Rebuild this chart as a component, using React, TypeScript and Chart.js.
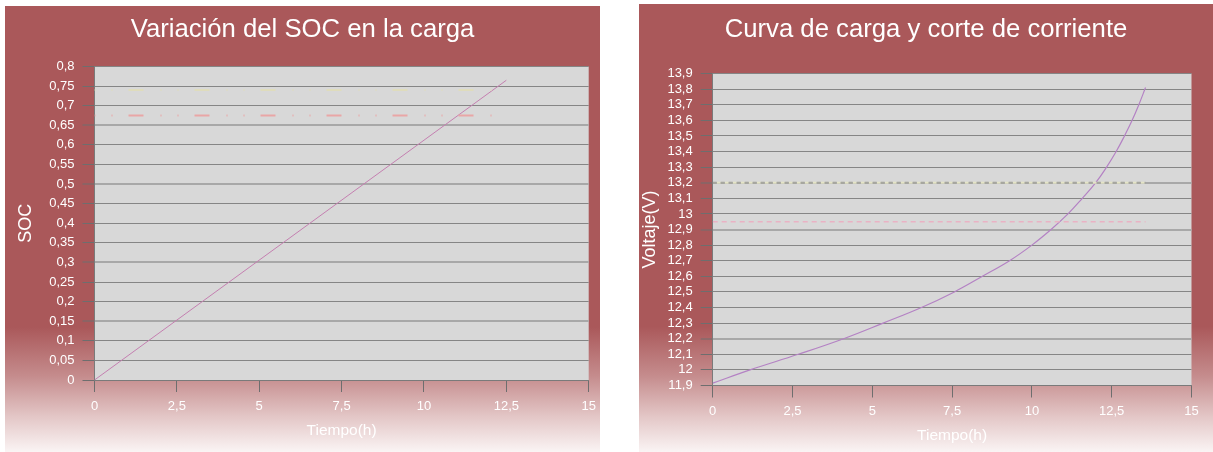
import React, { useEffect, useRef } from "react";
import { Chart, registerables } from "chart.js";

Chart.register(...registerables);

// ---- State of charge while charging ----
const socTime = [0, 12.5];
const socValues = [0, 0.765];
const socLimitUpper = 0.74;
const socLimitLower = 0.675;
const socLimitSpan = [0, 12.5];
const socLightGrid = [0.65, 0.5, 0.3, 0.15];

// ---- Charging voltage curve and current cut-off ----
const voltTime = [
  0, 1.17, 2.68, 4.1, 5.34, 6.54, 7.57, 8.45, 9.3, 10.0, 10.6, 11.13,
  11.58, 12.0, 12.34, 12.64, 12.9, 13.14, 13.35, 13.56,
];
const voltValues = [
  11.915, 12.0, 12.1, 12.2, 12.3, 12.4, 12.5, 12.6, 12.7, 12.8, 12.9, 13.0,
  13.1, 13.2, 13.3, 13.4, 13.5, 13.6, 13.7, 13.81,
];
const cutoffHigh = 13.2;
const cutoffLow = 12.95;
const cutoffSpan = [0, 13.56];
const voltLightGrid = [13.2, 12.9, 12.2];

const timeMin = 0;
const timeMax = 15;
const timeStep = 2.5;

const FONT = "'Liberation Sans', Arial, Helvetica, sans-serif";
Chart.defaults.font.family = FONT;

const fmt = (v: number | string) =>
  String(+Number(v).toFixed(2)).replace(".", ",");

const pts = (xs: number[], ys: number[]) => xs.map((x, i) => ({ x, y: ys[i] }));
const flat = (span: number[], y: number) => span.map((x) => ({ x, y }));

const plotFill = {
  id: "plotFill",
  beforeDraw(chart: any) {
    const { ctx, chartArea: a } = chart;
    ctx.save();
    ctx.fillStyle = "#D8D8D8";
    ctx.fillRect(a.left, a.top, a.right - a.left, a.bottom - a.top);
    ctx.restore();
  },
};

type Geo = {
  yWidth: number;
  xHeight: number;
  padRight: number;
  titleTop: number;
  titleBottom: number;
  yTitlePad: number;
  xTitlePad: number;
  xTickPad: number;
};

function buildConfig(opts: {
  title: string;
  yTitle: string;
  yMin: number;
  yMax: number;
  yStep: number;
  light: number[];
  datasets: any[];
  geo: Geo;
}) {
  const { geo } = opts;
  const isLight = (v: number) => opts.light.some((l) => Math.abs(l - v) < 1e-6);
  return {
    type: "line",
    data: { datasets: opts.datasets },
    plugins: [plotFill],
    options: {
      animation: false,
      responsive: false,
      events: [],
      layout: { padding: 0 },
      elements: { point: { radius: 0 } },
      plugins: {
        legend: { display: false },
        tooltip: { enabled: false },
        title: {
          display: true,
          text: opts.title,
          color: "#FFFFFF",
          font: { family: FONT, size: 25.7, weight: "normal", lineHeight: 1.2 },
          padding: { top: geo.titleTop, bottom: geo.titleBottom },
        },
      },
      scales: {
        x: {
          type: "linear",
          min: timeMin,
          max: timeMax,
          ticks: {
            stepSize: timeStep,
            color: "#FFFFFF",
            font: { family: FONT, size: 13 },
            padding: geo.xTickPad,
            maxRotation: 0,
            minRotation: 0,
            autoSkip: false,
            callback: fmt,
          },
          grid: {
            drawOnChartArea: false,
            drawTicks: true,
            tickLength: 12,
            color: "#6E6E6E",
            tickColor: "#6E6E6E",
          },
          border: { display: true, color: "#7A7A7A", width: 1 },
          title: {
            display: true,
            text: "Tiempo(h)",
            color: "#FFFFFF",
            font: { family: FONT, size: 15.5, lineHeight: 1.2 },
            padding: { top: 0, bottom: geo.xTitlePad },
          },
          afterFit(scale: any) {
            scale.height = geo.xHeight;
            scale.paddingRight = geo.padRight;
          },
        },
        y: {
          type: "linear",
          min: opts.yMin,
          max: opts.yMax,
          ticks: {
            stepSize: opts.yStep,
            color: "#FFFFFF",
            font: { family: FONT, size: 13 },
            padding: 8,
            autoSkip: false,
            callback: fmt,
          },
          grid: {
            drawTicks: true,
            tickLength: 12,
            color: (c: any) => (c.tick && isLight(c.tick.value) ? "#A8A8A8" : "#858585"),
            lineWidth: (c: any) => (c.tick && isLight(c.tick.value) ? 2 : 1),
            tickColor: "#6E6E6E",
            tickWidth: 1,
          },
          border: { display: true, color: "#7A7A7A", width: 1 },
          title: {
            display: true,
            text: opts.yTitle,
            color: "#FFFFFF",
            font: { family: FONT, size: 18, lineHeight: 1.2 },
            padding: { top: geo.yTitlePad, bottom: 0 },
          },
          afterFit(scale: any) {
            scale.width = geo.yWidth;
          },
        },
      },
    },
  };
}

const socConfig = () =>
  buildConfig({
    title: "Variación del SOC en la carga",
    yTitle: "SOC",
    yMin: 0,
    yMax: 0.8,
    yStep: 0.05,
    light: socLightGrid,
    geo: {
      yWidth: 89.5,
      xHeight: 72,
      padRight: 11.3,
      titleTop: 8.3,
      titleBottom: 21.4,
      yTitlePad: 10,
      xTitlePad: 11.5,
      xTickPad: 7,
    },
    datasets: [
      {
        data: flat(socLimitSpan, socLimitUpper),
        borderColor: "#DFDCBC",
        borderWidth: 2,
        borderDash: [1, 16, 1, 16, 15, 17],
        borderCapStyle: "butt",
      },
      {
        data: flat(socLimitSpan, socLimitLower),
        borderColor: "#E9A6A6",
        borderWidth: 2,
        borderDash: [1, 16, 1, 16, 15, 17],
        borderCapStyle: "butt",
      },
      {
        data: pts(socTime, socValues),
        borderColor: "#C47FB0",
        borderWidth: 1,
      },
    ],
  });

const voltConfig = () =>
  buildConfig({
    title: "Curva de carga y corte de corriente",
    yTitle: "Voltaje(V)",
    yMin: 11.9,
    yMax: 13.9,
    yStep: 0.1,
    light: voltLightGrid,
    geo: {
      yWidth: 73.7,
      xHeight: 66.5,
      padRight: 21.5,
      titleTop: 10.3,
      titleBottom: 28.4,
      yTitlePad: 0,
      xTitlePad: 7,
      xTickPad: 6,
    },
    datasets: [
      {
        data: flat(cutoffSpan, cutoffHigh),
        borderColor: "#A6A69E",
        borderWidth: 2,
        borderDash: [4, 4],
      },
      {
        data: flat(cutoffSpan, cutoffHigh),
        borderColor: "#E4E4C6",
        borderWidth: 2,
        borderDash: [4, 4],
        borderDashOffset: 4,
      },
      {
        data: flat(cutoffSpan, cutoffLow),
        borderColor: "#EAB2C4",
        borderWidth: 1.5,
        borderDash: [5, 4],
      },
      {
        data: pts(voltTime, voltValues),
        borderColor: "#B482C4",
        borderWidth: 1.2,
        tension: 0.4,
      },
    ],
  });

function ChartPanel(props: {
  left: number;
  top: number;
  width: number;
  height: number;
  config: () => any;
}) {
  const ref = useRef<HTMLCanvasElement>(null);
  useEffect(() => {
    const chart = new Chart(ref.current as HTMLCanvasElement, props.config() as any);
    return () => chart.destroy();
  }, []);
  return (
    <div
      style={{
        position: "fixed",
        left: props.left,
        top: props.top,
        width: props.width,
        height: props.height,
        background:
          "linear-gradient(to bottom, #AA585A 0%, #AA585A 72%, #C58C8D 83%, #E3C6C6 92%, #FAF4F4 100%)",
      }}
    >
      <canvas
        ref={ref}
        width={props.width}
        height={props.height}
        style={{ display: "block" }}
      />
    </div>
  );
}

export default function App() {
  return (
    <div>
      <ChartPanel left={5} top={6} width={595} height={446} config={socConfig} />
      <ChartPanel left={639} top={4} width={574} height={448} config={voltConfig} />
    </div>
  );
}
